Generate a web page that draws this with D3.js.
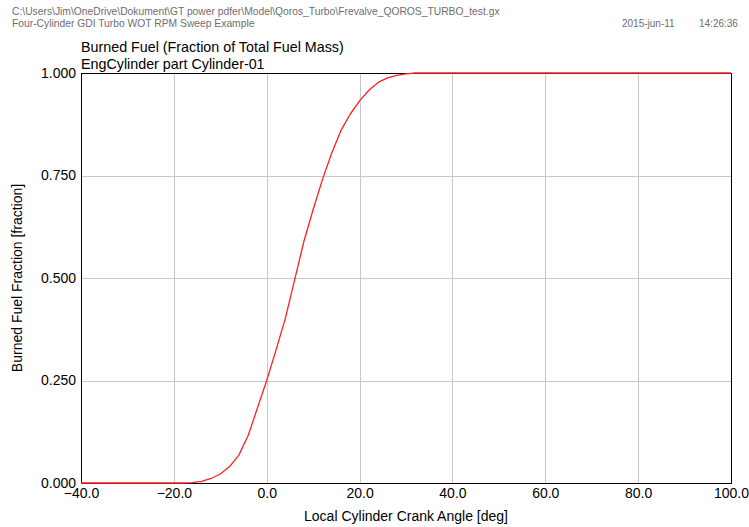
<!DOCTYPE html>
<html>
<head>
<meta charset="utf-8">
<script src="https://cdn.jsdelivr.net/npm/d3@7"></script>
<style>
  html, body { margin: 0; padding: 0; background: #fff; }
  svg { display: block; }
  text { font-family: "Liberation Sans", Arial, sans-serif; }
</style>
</head>
<body>
<svg id="chart" width="749" height="527"></svg>
<script>
// Crank angle [deg] and burned fuel fraction for Cylinder-01
const crankAngle = [-40, -18, -16, -14, -12, -10, -8, -6, -4, -2, 0, 2, 4, 6, 8, 10, 12, 14, 16, 18, 20, 22, 24, 26, 28, 30, 32, 100];
const burnedFraction = [0, 0, 0.001, 0.004, 0.011, 0.022, 0.040, 0.068, 0.116, 0.183, 0.250, 0.324, 0.401, 0.495, 0.589, 0.667, 0.740, 0.805, 0.860, 0.900, 0.932, 0.958, 0.977, 0.988, 0.994, 0.998, 1.0, 1.0];

const xTicks = [-40, -20, 0, 20, 40, 60, 80, 100];
const yTicks = [0, 0.25, 0.5, 0.75, 1.0];

const headerLines = [
  "C:\\Users\\Jim\\OneDrive\\Dokument\\GT power pdfer\\Model\\Qoros_Turbo\\Frevalve_QOROS_TURBO_test.gx",
  "Four-Cylinder GDI Turbo WOT RPM Sweep Example"
];
const runDate = "2015-jun-11";
const runTime = "14:26:36";
const titleLines = ["Burned Fuel (Fraction of Total Fuel Mass)", "EngCylinder part Cylinder-01"];
const xLabel = "Local Cylinder Crank Angle [deg]";
const yLabel = "Burned Fuel Fraction [fraction]";

const svg = d3.select("#chart");
const plot = { left: 81, right: 731, top: 73, bottom: 483 };

const x = d3.scaleLinear().domain([-40, 100]).range([plot.left, plot.right]);
const y = d3.scaleLinear().domain([0, 1]).range([plot.bottom, plot.top]);

// Header (file path, model description, timestamp)
svg.selectAll("text.header")
  .data(headerLines)
  .join("text")
  .attr("class", "header")
  .attr("x", 12)
  .attr("y", (d, i) => 15 + i * 12)
  .attr("font-size", 10.3)
  .attr("fill", "#6e6e6e")
  .text(d => d);

svg.append("text").attr("x", 622).attr("y", 27).attr("font-size", 10).attr("fill", "#6e6e6e").text(runDate);
svg.append("text").attr("x", 699).attr("y", 27).attr("font-size", 10).attr("fill", "#6e6e6e").text(runTime);

// Plot title
svg.selectAll("text.title")
  .data(titleLines)
  .join("text")
  .attr("class", "title")
  .attr("x", plot.left)
  .attr("y", (d, i) => 52 + i * 17)
  .attr("font-size", 14.3)
  .attr("fill", "#000")
  .text(d => d);

// Grid
const grid = svg.append("g").attr("stroke", "#c8c8c8").attr("stroke-width", 1);
grid.selectAll("line.vx")
  .data(xTicks.slice(1, -1))
  .join("line")
  .attr("x1", d => Math.round(x(d)) + 0.5).attr("x2", d => Math.round(x(d)) + 0.5)
  .attr("y1", plot.top).attr("y2", plot.bottom);
grid.selectAll("line.hy")
  .data(yTicks.slice(1, -1))
  .join("line")
  .attr("x1", plot.left).attr("x2", plot.right)
  .attr("y1", d => Math.round(y(d)) + 0.5).attr("y2", d => Math.round(y(d)) + 0.5);

// Axes with labels only (no outer tick marks)
const xAxis = svg.append("g")
  .attr("transform", `translate(0,${plot.bottom})`)
  .call(d3.axisBottom(x).tickValues(xTicks).tickSize(0).tickPadding(5).tickFormat(d3.format(".1f")));
xAxis.select(".domain").remove();
xAxis.selectAll("text").attr("font-size", 14).attr("fill", "#000").attr("font-family", "Liberation Sans, Arial, sans-serif");

const yAxis = svg.append("g")
  .attr("transform", `translate(${plot.left},0)`)
  .call(d3.axisLeft(y).tickValues(yTicks).tickSize(0).tickPadding(5).tickFormat(d3.format(".3f")));
yAxis.select(".domain").remove();
yAxis.selectAll("text").attr("font-size", 14).attr("fill", "#000").attr("font-family", "Liberation Sans, Arial, sans-serif");

// Plot frame
svg.append("rect")
  .attr("x", plot.left + 0.5).attr("y", plot.top + 0.5)
  .attr("width", plot.right - plot.left).attr("height", plot.bottom - plot.top)
  .attr("fill", "none").attr("stroke", "#000").attr("stroke-width", 1);

// Burn curve
const line = d3.line().x((d, i) => x(crankAngle[i])).y(d => y(d));
svg.append("path")
  .datum(burnedFraction)
  .attr("d", line)
  .attr("fill", "none")
  .attr("stroke", "#ff2020")
  .attr("stroke-width", 1.3)
  .attr("stroke-linejoin", "round");

// Axis titles
svg.append("text")
  .attr("x", (plot.left + plot.right) / 2).attr("y", 521)
  .attr("text-anchor", "middle").attr("font-size", 14).attr("fill", "#000")
  .text(xLabel);

svg.append("text")
  .attr("transform", `translate(22,${(plot.top + plot.bottom) / 2}) rotate(-90)`)
  .attr("text-anchor", "middle").attr("font-size", 14).attr("fill", "#000")
  .text(yLabel);
</script>
</body>
</html>
